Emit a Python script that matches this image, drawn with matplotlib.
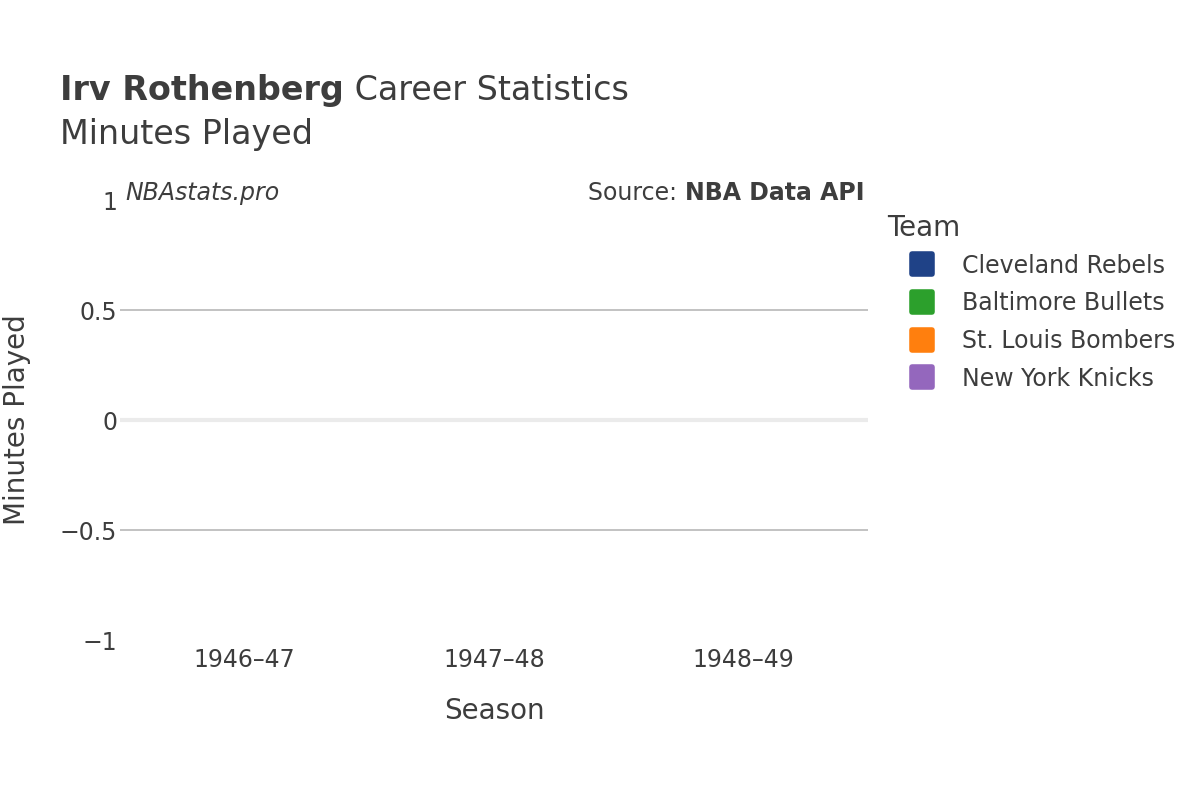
import matplotlib.pyplot as plt
from matplotlib.lines import Line2D
from matplotlib.markers import MarkerStyle

# Data (every bar has zero minutes)
seasons = ["1946\u201347", "1947\u201348", "1948\u201349"]
teams = ["Cleveland Rebels", "Baltimore Bullets", "St. Louis Bombers", "New York Knicks"]
team_colors = ["#1f4287", "#2ca02c", "#ff7f0e", "#9467bd"]
season_team = ["Cleveland Rebels", "Baltimore Bullets", "New York Knicks"]
minutes = [0, 0, 0]

text_color = "#3d3d3d"
plt.rcParams["font.family"] = ["DejaVu Sans"]

fig = plt.figure(figsize=(12, 8), dpi=100)
ax = fig.add_axes([0.1, 0.2, 0.6233, 0.55])

x = range(len(seasons))
colors = [team_colors[teams.index(t)] for t in season_team]
ax.bar(x, minutes, width=0.8, color=colors, linewidth=0)

ax.set_xlim(-0.5, len(seasons) - 0.5)
ax.set_ylim(-1, 1)
ax.set_yticks([-1, -0.5, 0, 0.5, 1])
ax.set_yticklabels(["\u22121", "\u22120.5", "0", "0.5", "1"])
ax.set_xticks(list(x))
ax.set_xticklabels(seasons)

# Gridlines
for y in [-0.5, 0.5]:
    ax.axhline(y, color="#bdbdbd", linewidth=1.3, zorder=0)
ax.axhline(0, color="#ebebeb", linewidth=3, zorder=0)

for side in ["top", "right", "bottom", "left"]:
    ax.spines[side].set_visible(False)
ax.tick_params(axis="both", length=0, labelsize=17, colors=text_color)
ax.tick_params(axis="x", pad=6)
ax.tick_params(axis="y", pad=2)

ax.set_xlabel("Season", fontsize=20, color=text_color, va="center")
ax.xaxis.set_label_coords(0.5, -0.161)
ax.set_ylabel("Minutes Played", fontsize=20, color=text_color, va="center")
ax.yaxis.set_label_coords(-0.138, 0.5)

# Titles
t1 = fig.text(0.05, 0.887, "Irv Rothenberg", fontsize=24, fontweight="bold",
              color=text_color, va="center")
ax.annotate(" Career Statistics", xy=(1, 0.5), xycoords=t1, fontsize=24,
            color=text_color, ha="left", va="center")
fig.text(0.05, 0.832, "Minutes Played", fontsize=24, color=text_color, va="center")

# Annotations
ax.text(0.007, 1.016, "NBAstats.pro", transform=ax.transAxes, fontsize=17,
        style="italic", color=text_color, ha="left", va="center")
src = ax.text(0.995, 1.016, "NBA Data API", transform=ax.transAxes, fontsize=17,
              fontweight="bold", color=text_color, ha="right", va="center")
ax.annotate("Source: ", xy=(0, 0.5), xycoords=src, fontsize=17,
            color=text_color, ha="right", va="center")

# Legend
marker = MarkerStyle("s", joinstyle="round")
handles = [Line2D([0], [0], marker=marker, linestyle="none", markersize=14,
                  markeredgewidth=4, markerfacecolor=c, markeredgecolor=c, label=t)
           for t, c in zip(teams, team_colors)]
leg = fig.legend(handles=handles, loc="upper left", bbox_to_anchor=(0.739, 0.732),
                 frameon=False, title="Team", fontsize=17, title_fontsize=20,
                 labelcolor=text_color, handlelength=3.0, handletextpad=0.2,
                 labelspacing=0.58, borderpad=0, borderaxespad=0,
                 alignment="left")
leg.get_title().set_color(text_color)
leg._legend_box.sep = 8

fig.savefig("out.png", dpi=100)
